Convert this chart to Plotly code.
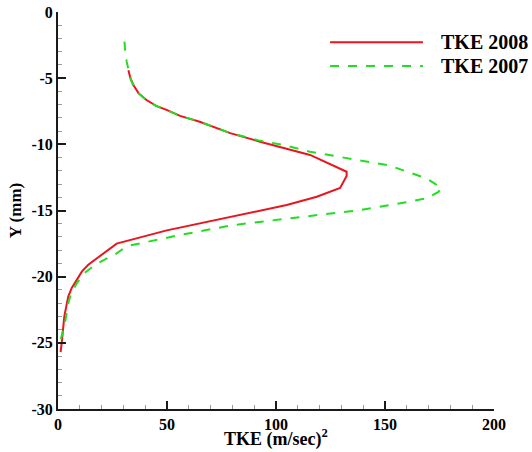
import plotly.graph_objects as go

# TKE 2008 (red, solid)
tke2008_x = [32.3, 33.2, 34.5, 37.0, 40.6, 45.0, 49.8, 56.0, 65.0, 72.0, 79.0, 92.7, 104.0, 115.6,
             132.4, 132.4, 129.4, 118.7, 104.9, 95.7, 72.8, 49.9, 26.9, 23.0, 18.5, 13.9, 11.0,
             8.6, 6.3, 4.7, 2.9, 1.7, 1.2]
tke2008_y = [-4.4, -5.0, -5.5, -6.15, -6.65, -7.1, -7.4, -7.85, -8.29, -8.75, -9.15, -9.8, -10.3, -10.8,
             -12.07, -12.4, -13.3, -13.96, -14.59, -14.9, -15.7, -16.5, -17.5, -18.0, -18.55, -19.1, -19.6,
             -20.26, -20.85, -21.5, -23.0, -25.0, -25.7]

# TKE 2007 (green, dashed)
tke2007_x = [30.5, 30.8, 31.5, 32.3, 33.2, 34.5, 37.0, 40.6, 45.0, 49.8, 56.0, 65.0, 72.0, 79.0,
             92.0, 103.4, 115.6, 138.5, 152.0, 169.0, 176.0, 174.5, 169.0, 157.0, 138.5, 111.0, 80.4,
             56.0, 31.5, 26.9, 21.5, 17.0, 12.0, 8.6, 6.2, 4.7, 3.2, 2.0, 1.2]
tke2007_y = [-2.24, -3.0, -3.75, -4.4, -5.0, -5.5, -6.15, -6.65, -7.1, -7.4, -7.85, -8.29, -8.75, -9.15,
             -9.7, -10.05, -10.56, -11.2, -11.6, -12.57, -13.3, -13.6, -14.08, -14.46, -14.97, -15.5, -16.1,
             -16.85, -17.7, -18.24, -18.7, -19.1, -19.75, -20.5, -21.2, -22.0, -23.5, -24.3, -24.8]

x_tickvals = [0, 50, 100, 150, 200]
x_ticktext = ["0", "50", "100", "150", "200"]
y_tickvals = [0, -5, -10, -15, -20, -25, -30]
y_ticktext = ["0", "-5", "-10", "-15", "-20", "-25", "-30"]

legend_names = ["TKE 2008", "TKE 2007"]
x_title = "TKE (m/sec)<sup>2</sup>"
y_title = "Y (mm)"
RED = "#e8161e"
GREEN = "#22dd22"
FONT = "Liberation Serif"

fig = go.Figure()
fig.add_trace(go.Scatter(x=tke2008_x, y=tke2008_y, mode="lines", name=legend_names[0],
                         line=dict(color=RED, width=2), showlegend=False))
fig.add_trace(go.Scatter(x=tke2007_x, y=tke2007_y, mode="lines", name=legend_names[1],
                         line=dict(color=GREEN, width=2, dash="dash"), showlegend=False))

# manual legend (paper coordinates)
leg_rows = [(0.924, RED, "solid", legend_names[0]), (0.864, GREEN, "dash", legend_names[1])]
for yy, col, dash, name in leg_rows:
    fig.add_shape(type="line", xref="paper", yref="paper", x0=0.624, x1=0.837, y0=yy, y1=yy,
                  line=dict(color=col, width=2, dash=dash))
    fig.add_annotation(xref="paper", yref="paper", x=0.874, y=yy, text="<b>%s</b>" % name,
                       showarrow=False, xanchor="left", yanchor="middle",
                       font=dict(family=FONT, size=20, color="black"))

# x-axis title as annotation (placed below tick labels)
fig.add_annotation(xref="paper", yref="paper", x=0.5, y=-0.074, text="<b>%s</b>" % x_title,
                   showarrow=False, xanchor="center", yanchor="middle",
                   font=dict(family=FONT, size=18, color="black"))

axis_common = dict(
    showline=True, linecolor="#1a1a1a", linewidth=2,
    ticks="inside", ticklen=8, tickwidth=2, tickcolor="#1a1a1a",
    showgrid=False, zeroline=False, mirror=False,
    tickfont=dict(family=FONT, size=16, color="black"),
    tickmode="array", automargin=False,
)

fig.update_xaxes(range=[0, 200], tickvals=x_tickvals, ticktext=["<b>%s</b>" % t for t in x_ticktext],
                 minor=dict(ticks="inside", ticklen=4, tickwidth=1, tickcolor="#999999", dtick=10, tick0=0),
                 **axis_common)
fig.update_yaxes(range=[-30, 0], tickvals=y_tickvals, ticktext=["<b>%s</b>" % t for t in y_ticktext],
                 minor=dict(ticks="inside", ticklen=4, tickwidth=1, tickcolor="#999999", dtick=1, tick0=0),
                 title=dict(text="<b>%s</b>" % y_title, standoff=6,
                            font=dict(family=FONT, size=17, color="black")),
                 **axis_common)

fig.update_layout(
    width=532, height=452,
    margin=dict(l=58, r=38, t=12, b=43),
    plot_bgcolor="white", paper_bgcolor="white",
    showlegend=False,
)

fig.write_html("out.html", config={"displayModeBar": False},
               post_script="document.body.style.margin='0px';document.body.style.padding='0px';")
